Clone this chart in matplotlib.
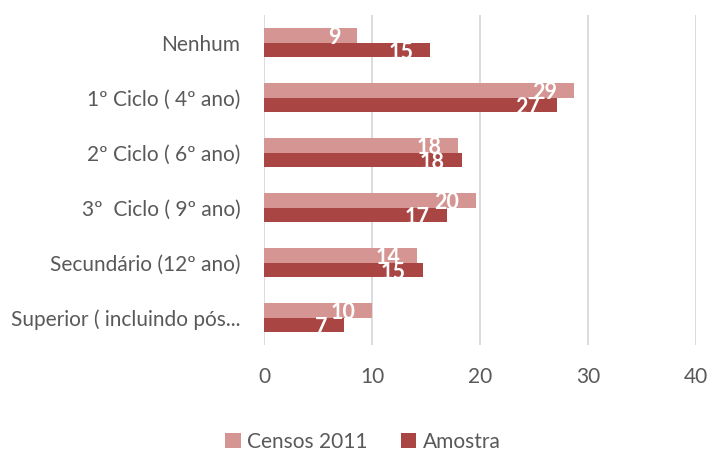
import matplotlib.pyplot as plt
import numpy as np

categorias = ["Nenhum", "1º Ciclo ( 4º ano)", "2º Ciclo ( 6º ano)",
              "3º  Ciclo ( 9º ano)", "Secundário (12º ano)", "Superior ( incluindo pós..."]
censos = [8.6, 28.7, 18.0, 19.6, 14.2, 10.0]
amostra = [15.4, 27.1, 18.3, 16.9, 14.7, 7.4]
series = ["Censos 2011", "Amostra"]
cores = ["#D59593", "#A94543"]

plt.rcParams["font.family"] = ["Lato", "DejaVu Sans"]
texto = "#595959"

fig = plt.figure(figsize=(7.11, 4.57), dpi=100)
ax = fig.add_axes([0.3713, 0.245, 0.6076, 0.722])

y = np.arange(len(categorias))
h = 0.27
b1 = ax.barh(y - h / 2, censos, h, color=cores[0], label=series[0], zorder=2)
b2 = ax.barh(y + h / 2, amostra, h, color=cores[1], label=series[1], zorder=2)

for bars, vals in [(b1, censos), (b2, amostra)]:
    for bar, v in zip(bars, vals):
        ax.annotate(f"{round(v)}", (bar.get_width(), bar.get_y() + bar.get_height() / 2),
                    xytext=(-12, -2), textcoords="offset points", ha="right", va="center",
                    color="white", fontsize=15.5, fontweight="bold", zorder=3)

ax.set_xlim(0, 40)
ax.set_ylim(len(categorias) - 0.5, -0.5)
ax.set_xticks([0, 10, 20, 30, 40])
ax.set_yticks(y)
ax.set_yticklabels(categorias)
ax.grid(axis="x", color="#D9D9D9", linewidth=1.3, zorder=0)
for s in ax.spines.values():
    s.set_visible(False)
ax.tick_params(axis="both", length=0, labelsize=15, colors=texto)
ax.tick_params(axis="x", pad=16)
ax.tick_params(axis="y", pad=17)

fig.legend(loc="lower center", bbox_to_anchor=(0.51, -0.03), ncol=2, frameon=False,
           fontsize=15, labelcolor=texto, handlelength=0.75, handleheight=0.75,
           columnspacing=1.6, handletextpad=0.3)

plt.savefig("out.png", dpi=100)
